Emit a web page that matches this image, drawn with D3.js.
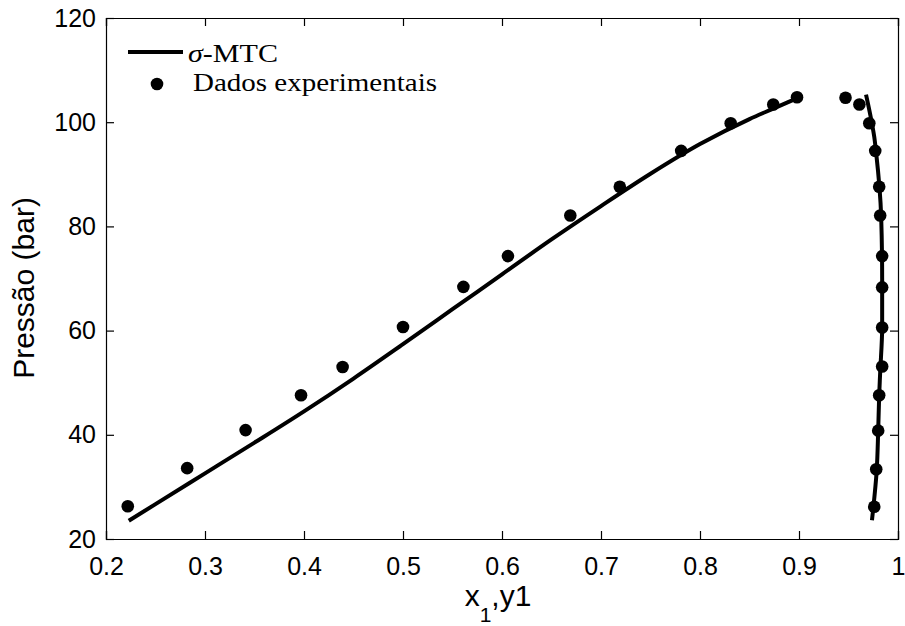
<!DOCTYPE html>
<html>
<head>
<meta charset="utf-8">
<script src="https://cdn.jsdelivr.net/npm/d3@7"></script>
<style>
  html, body { margin: 0; padding: 0; background: #fff; }
  svg { display: block; }
</style>
</head>
<body>
<svg id="chart" width="905" height="626"></svg>
<script>
// Experimental points: liquid branch (x1) and vapour branch (y1)
const expLiquidX = [0.222, 0.282, 0.341, 0.397, 0.439, 0.500, 0.561, 0.606, 0.669, 0.719, 0.781, 0.831, 0.874, 0.898];
const expLiquidP = [26.3, 33.6, 40.9, 47.6, 53.0, 60.7, 68.4, 74.3, 82.1, 87.6, 94.5, 99.8, 103.4, 104.8];
const expVaporX  = [0.947, 0.961, 0.971, 0.977, 0.981, 0.982, 0.984, 0.984, 0.984, 0.984, 0.981, 0.980, 0.978, 0.976];
const expVaporP  = [104.7, 103.4, 99.8, 94.5, 87.6, 82.1, 74.3, 68.3, 60.6, 53.1, 47.6, 40.8, 33.4, 26.2];

// σ-MTC model: bubble curve and dew curve
const modelLiquidX = [0.223, 0.25, 0.30, 0.35, 0.40, 0.45, 0.50, 0.55, 0.60, 0.65, 0.70, 0.75, 0.80, 0.85, 0.874, 0.897];
const modelLiquidP = [23.5, 26.7, 32.6, 38.5, 44.5, 50.8, 57.4, 64.1, 70.8, 77.5, 83.9, 90.1, 95.8, 100.6, 102.6, 104.5];
const modelVaporX  = [0.9677, 0.9717, 0.976, 0.978, 0.983, 0.984, 0.984, 0.982, 0.981, 0.980, 0.9785, 0.9737];
const modelVaporP  = [105.3, 101.7, 97.2, 94.0, 81.9, 70.0, 60.7, 52.0, 47.6, 40.8, 33.2, 23.6];

// Axis ticks
const xTicks = [0.2, 0.3, 0.4, 0.5, 0.6, 0.7, 0.8, 0.9, 1.0];
const xTickLabels = ["0.2", "0.3", "0.4", "0.5", "0.6", "0.7", "0.8", "0.9", "1"];
const yTicks = [20, 40, 60, 80, 100, 120];
const yTickLabels = ["20", "40", "60", "80", "100", "120"];

const svg = d3.select("#chart");
const plotLeft = 106, plotRight = 898, plotTop = 18, plotBottom = 539;

const x = d3.scaleLinear().domain([0.2, 1.0]).range([plotLeft, plotRight]);
const y = d3.scaleLinear().domain([20, 120]).range([plotBottom, plotTop]);

const sansFont = "'Liberation Sans', Arial, Helvetica, sans-serif";
const serifFont = "'Liberation Serif', 'Times New Roman', serif";
const tickLen = 8;

// Axes with inward ticks on all four sides (boxed frame)
const gx = svg.append("g").attr("transform", `translate(0,${plotBottom})`)
  .call(d3.axisBottom(x).tickValues(xTicks).tickSize(-tickLen).tickPadding(18)
    .tickFormat((d, i) => xTickLabels[i]));
const gxTop = svg.append("g").attr("transform", `translate(0,${plotTop})`)
  .call(d3.axisTop(x).tickValues(xTicks).tickSize(-tickLen).tickFormat(""));
const gy = svg.append("g").attr("transform", `translate(${plotLeft},0)`)
  .call(d3.axisLeft(y).tickValues(yTicks).tickSize(-tickLen).tickPadding(10)
    .tickFormat((d, i) => yTickLabels[i]));
const gyRight = svg.append("g").attr("transform", `translate(${plotRight},0)`)
  .call(d3.axisRight(y).tickValues(yTicks).tickSize(-tickLen).tickFormat(""));

[gx, gxTop, gy, gyRight].forEach(g => {
  g.select(".domain").attr("stroke", "#000").attr("stroke-width", 1.2);
  g.selectAll(".tick line").attr("stroke", "#000").attr("stroke-width", 1.2);
  g.selectAll(".tick text").attr("fill", "#000")
    .style("font-family", sansFont).style("font-size", "25px");
});
gx.selectAll(".tick text").attr("dy", "0.71em");

// Model curves
const lineX = d3.line().x(d => x(d[0])).y(d => y(d[1])).curve(d3.curveMonotoneX);
const lineY = d3.line().x(d => x(d[0])).y(d => y(d[1])).curve(d3.curveMonotoneY);

const liquidCurve = modelLiquidX.map((v, i) => [v, modelLiquidP[i]]);
const vaporCurve = modelVaporX.map((v, i) => [v, modelVaporP[i]]).sort((a, b) => a[1] - b[1]);

svg.append("path").datum(liquidCurve).attr("d", lineX)
  .attr("fill", "none").attr("stroke", "#000").attr("stroke-width", 4);
svg.append("path").datum(vaporCurve).attr("d", lineY)
  .attr("fill", "none").attr("stroke", "#000").attr("stroke-width", 4);

// Experimental markers
const points = expLiquidX.map((v, i) => [v, expLiquidP[i]])
  .concat(expVaporX.map((v, i) => [v, expVaporP[i]]));
svg.append("g").selectAll("circle").data(points).join("circle")
  .attr("cx", d => x(d[0])).attr("cy", d => y(d[1])).attr("r", 6.3)
  .attr("fill", "#000");

// Legend
const lg = svg.append("g");
lg.append("line").attr("x1", 128).attr("x2", 183).attr("y1", 52).attr("y2", 52)
  .attr("stroke", "#000").attr("stroke-width", 4);
lg.append("text").attr("x", 188).attr("y", 62)
  .attr("textLength", 90).attr("lengthAdjust", "spacingAndGlyphs")
  .style("font-family", serifFont).style("font-size", "26px")
  .html('<tspan font-style="italic">σ</tspan>-MTC');
lg.append("circle").attr("cx", 157).attr("cy", 84).attr("r", 6.3).attr("fill", "#000");
lg.append("text").attr("x", 193).attr("y", 91)
  .attr("textLength", 244).attr("lengthAdjust", "spacingAndGlyphs")
  .style("font-family", serifFont).style("font-size", "26px")
  .text("Dados experimentais");

// Axis titles
svg.append("text").attr("x", 498).attr("y", 606).attr("text-anchor", "middle")
  .style("font-family", sansFont).style("font-size", "30px")
  .html('x<tspan font-size="21px" dy="16">1</tspan><tspan dy="-16">,y1</tspan>');
svg.append("text").attr("transform", "translate(34,288) rotate(-90)")
  .attr("text-anchor", "middle")
  .style("font-family", sansFont).style("font-size", "30px")
  .text("Pressão (bar)");
</script>
</body>
</html>
